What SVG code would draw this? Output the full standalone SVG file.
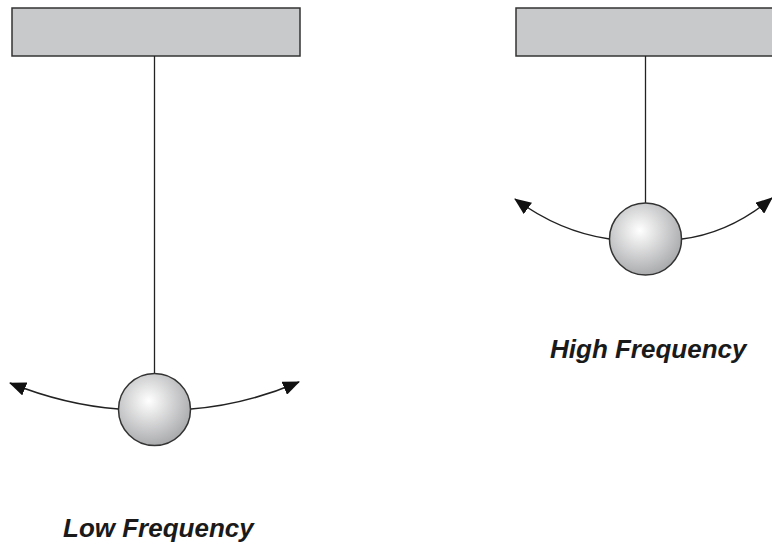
<svg xmlns="http://www.w3.org/2000/svg" width="772" height="548" viewBox="0 0 772 548">
<style>
.bar{fill:#c8c9cb;stroke:#333;stroke-width:1.5}
.str{stroke:#222;stroke-width:1.3;fill:none}
.arc{stroke:#222;stroke-width:1.5;fill:none;marker-end:url(#ah)}
.ball{fill:url(#bg);stroke:#333;stroke-width:1.5}
.lbl{font-family:"Liberation Sans",Arial,sans-serif;font-weight:bold;font-style:italic;font-size:26px;fill:#1a1a1a}
</style>
<defs>
<radialGradient id="bg" cx="0.42" cy="0.38" r="0.65">
<stop offset="0" stop-color="#ffffff"/>
<stop offset="1" stop-color="#a7a8aa"/>
</radialGradient>
<marker id="ah" viewBox="0 0 17 14" refX="16" refY="7" markerWidth="17" markerHeight="14" orient="auto" markerUnits="userSpaceOnUse">
<path d="M0,0 L17,7 L0,14 z" fill="#111"/>
</marker>
</defs>
<g id="low-pendulum">
<rect class="bar" x="12" y="8" width="288" height="48"/>
<line class="str" x1="154.5" y1="56" x2="154.5" y2="374"/>
<circle class="ball" cx="154.5" cy="409.5" r="36"/>
</g>
<g id="high-pendulum">
<rect class="bar" x="516" y="8" width="270" height="48"/>
<line class="str" x1="645.5" y1="56" x2="645.5" y2="203"/>
<circle class="ball" cx="645.5" cy="239" r="36"/>
</g>
<g id="connectors">
<path class="arc" d="M118.5,409 Q65,405 10,383"/>
<path class="arc" d="M191,409 Q245,405 299,382"/>
<path class="arc" d="M609.5,239 Q560,232 515,199"/>
<path class="arc" d="M682,239 Q730,233 772,198"/>
</g>
<g id="labels">
<text class="lbl" x="63" y="537">Low Frequency</text>
<text class="lbl" x="550" y="358">High Frequency</text>
</g>
</svg>
